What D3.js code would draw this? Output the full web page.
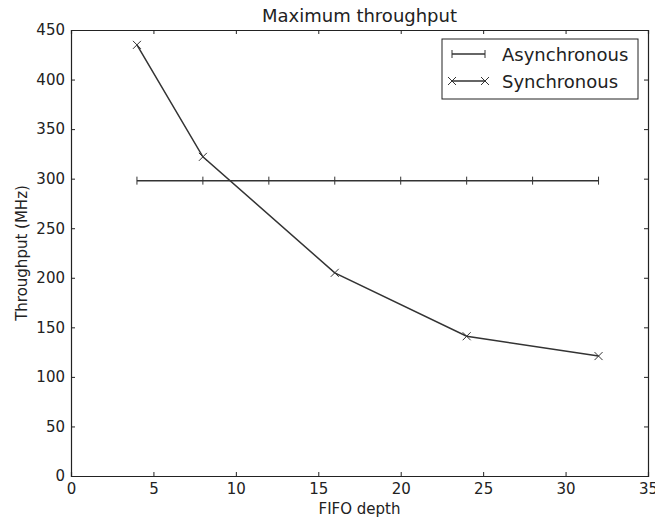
<!DOCTYPE html>
<html>
<head>
<meta charset="utf-8">
<script src="https://cdn.jsdelivr.net/npm/d3@7"></script>
<style>
    body { margin: 0; background: #fff; }
    text { font-family: "DejaVu Sans", sans-serif; fill: #222; }
</style>
</head>
<body>
<div id="chart"></div>
<script>
// data
const asyncDepth = [4, 8, 12, 16, 20, 24, 28, 32];
const asyncThroughput = [298, 298, 298, 298, 298, 298, 298, 298];
const syncDepth = [4, 8, 16, 24, 32];
const syncThroughput = [435, 322, 205, 141, 121];
const xTicks = [0, 5, 10, 15, 20, 25, 30, 35];
const yTicks = [0, 50, 100, 150, 200, 250, 300, 350, 400, 450];

const width = 655, height = 519;
const margin = { top: 30, right: 7, bottom: 43, left: 71 };

const svg = d3.select('#chart')
    .append('svg')
    .attr('width', width)
    .attr('height', height);

const x = d3.scaleLinear().domain([0, 35]).range([margin.left, width - margin.right]);
const y = d3.scaleLinear().domain([0, 450]).range([height - margin.bottom, margin.top]);

// axes, ticks point inward on all four sides
const tickLen = 4;
svg.append('g')
    .attr('transform', `translate(0,${y(0)})`)
    .call(d3.axisBottom(x).tickValues(xTicks).tickSize(-tickLen).tickPadding(7))
    .call(g => g.selectAll('text').attr('font-size', 15));
svg.append('g')
    .attr('transform', `translate(0,${y(450)})`)
    .call(d3.axisTop(x).tickValues(xTicks).tickSize(-tickLen).tickFormat(''));
svg.append('g')
    .attr('transform', `translate(${x(0)},0)`)
    .call(d3.axisLeft(y).tickValues(yTicks).tickSize(-tickLen).tickPadding(6))
    .call(g => g.selectAll('text').attr('font-size', 15));
svg.append('g')
    .attr('transform', `translate(${x(35)},0)`)
    .call(d3.axisRight(y).tickValues(yTicks).tickSize(-tickLen).tickFormat(''));

svg.selectAll('.domain').attr('stroke', '#222').attr('stroke-width', 1.2);
svg.selectAll('.tick line').attr('stroke', '#222');

// lines
const line = d3.line().x(d => x(d[0])).y(d => y(d[1]));
const asyncPts = asyncDepth.map((d, i) => [d, asyncThroughput[i]]);
const syncPts = syncDepth.map((d, i) => [d, syncThroughput[i]]);

svg.append('path').datum(asyncPts)
    .attr('d', line).attr('fill', 'none').attr('stroke', '#333').attr('stroke-width', 1.5);
svg.append('path').datum(syncPts)
    .attr('d', line).attr('fill', 'none').attr('stroke', '#333').attr('stroke-width', 1.5);

// markers
function plus(g, cx, cy) {
    g.append('line').attr('x1', cx).attr('x2', cx).attr('y1', cy - 4).attr('y2', cy + 4)
        .attr('stroke', '#333').attr('stroke-width', 1);
}
function cross(g, cx, cy) {
    const r = 4;
    g.append('path')
        .attr('d', `M${cx - r},${cy - r}L${cx + r},${cy + r}M${cx - r},${cy + r}L${cx + r},${cy - r}`)
        .attr('stroke', '#333').attr('stroke-width', 1);
}
const marks = svg.append('g');
asyncPts.forEach(p => plus(marks, x(p[0]), y(p[1])));
syncPts.forEach(p => cross(marks, x(p[0]), y(p[1])));

// title and axis labels
svg.append('text').attr('x', (x(0) + x(35)) / 2).attr('y', 22)
    .attr('text-anchor', 'middle').attr('font-size', 18).text('Maximum throughput');
svg.append('text').attr('x', (x(0) + x(35)) / 2).attr('y', 514)
    .attr('text-anchor', 'middle').attr('font-size', 15).text('FIFO depth');
svg.append('text')
    .attr('transform', `translate(27,${(y(0) + y(450)) / 2}) rotate(-90)`)
    .attr('text-anchor', 'middle').attr('font-size', 15).text('Throughput (MHz)');

// legend
const legend = svg.append('g');
legend.append('rect').attr('x', 442).attr('y', 39).attr('width', 196).attr('height', 60)
    .attr('fill', '#fff').attr('stroke', '#222').attr('stroke-width', 1);
const items = [
    { label: 'Asynchronous', y: 54, mark: plus },
    { label: 'Synchronous', y: 81, mark: cross }
];
items.forEach(it => {
    legend.append('line').attr('x1', 452).attr('x2', 485).attr('y1', it.y).attr('y2', it.y)
        .attr('stroke', '#333').attr('stroke-width', 1.5);
    it.mark(legend, 452, it.y);
    it.mark(legend, 485, it.y);
    legend.append('text').attr('x', 502).attr('y', it.y + 6.5)
        .attr('font-size', 18).text(it.label);
});
</script>
</body>
</html>
